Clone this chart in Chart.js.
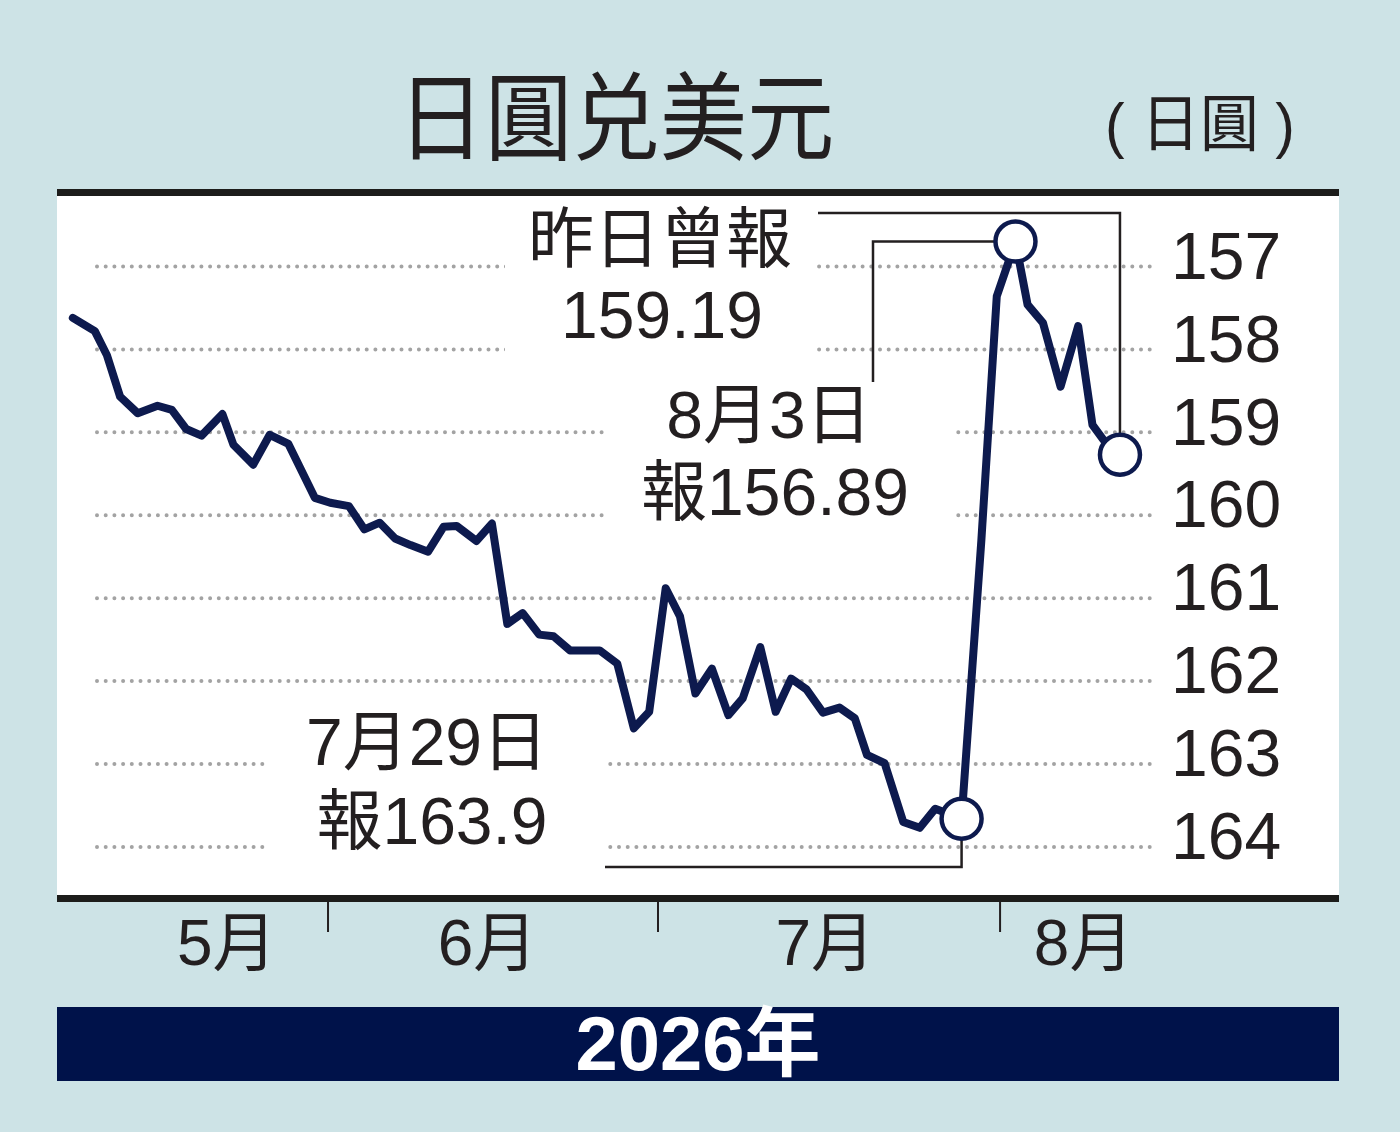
<!DOCTYPE html>
<html lang="zh-Hant">
<head>
<meta charset="utf-8">
<title>日圓兑美元</title>
<script src="https://cdn.jsdelivr.net/npm/chart.js@4.4.1/dist/chart.umd.min.js"></script>
<style>
  html, body { margin: 0; padding: 0; }
  body {
    width: 1400px; height: 1132px; position: relative; overflow: hidden;
    background: #cde3e6; color: #231f20;
    font-family: "Liberation Sans", "Noto Sans CJK TC", sans-serif;
  }
  #chart { position: absolute; left: 0; top: 0; }
  .title {
    position: absolute; left: 616px; top: 111px;
    transform: translate(-50%, -50%) scaleX(0.91);
    font-family: "Noto Sans CJK TC", sans-serif; font-size: 96px; font-weight: 400;
    line-height: 1; white-space: nowrap;
  }
  .unit {
    position: absolute; left: 1200px; top: 125px;
    transform: translate(-50%, -50%) scaleX(0.95);
    font-size: 62px; line-height: 1; white-space: nowrap;
  }
  .year {
    position: absolute; left: 57px; top: 1007px; width: 1282px; height: 74px;
    background: #00124a; color: #fff; text-align: center;
    font-size: 76px; font-weight: bold; line-height: 74px;
  }
</style>
</head>
<body>
<canvas id="chart" width="1400" height="1132"></canvas>
<div class="title">日圓兑美元</div>
<div class="unit">( 日圓 )</div>
<div class="year">2026年</div>
<script>
// 日期(由4月30日起計的日數, 5月1日=1) 及 日圓兑美元
const days = [8.3, 10.3, 11.4, 12.6, 14.2, 16.0, 17.3, 18.6, 20.0, 21.9,
  22.9, 24.7, 26.2, 27.9, 30.3, 31.7, 33.4, 34.8, 36.2, 37.6,
  39.0, 40.6, 42.0, 43.2, 45.0, 46.4, 47.8, 49.2, 50.7, 52.0,
  53.5, 54.9, 56.2, 57.8, 59.3, 60.7, 62.2, 63.5, 64.9, 66.4,
  67.9, 69.2, 70.8, 72.2, 73.6, 75.0, 76.5, 78.0, 79.4, 80.5,
  82.1, 83.8, 85.3, 86.7, 89.1, 90.9, 92.3, 94.0, 95.1, 96.5,
  98.1, 99.7, 101.0, 102.0, 103.5];
const rates = [157.62, 157.78, 158.07, 158.57, 158.77, 158.68, 158.73, 158.96, 159.04, 158.78,
  159.15, 159.39, 159.03, 159.14, 159.79, 159.85, 159.89, 160.17, 160.09, 160.28,
  160.36, 160.44, 160.14, 160.13, 160.31, 160.10, 161.31, 161.18, 161.44, 161.46,
  161.63, 161.63, 161.63, 161.79, 162.57, 162.37, 160.88, 161.22, 162.15, 161.85,
  162.41, 162.21, 161.59, 162.37, 161.97, 162.10, 162.38, 162.32, 162.45, 162.89,
  162.99, 163.70, 163.77, 163.54, 163.66, 160.30, 157.36, 156.70, 157.46, 157.68,
  158.45, 157.72, 158.91, 159.09, 159.27];

const yTicks = [157, 158, 159, 160, 161, 162, 163, 164];
const monthLabels = ['5月', '6月', '7月', '8月'];
const monthLabelDays = [22.3, 46.0, 76.7, 100.2];
const monthEdgeDays = [31.5, 61.5, 92.6];

// 標記: 7月29日低位, 8月3日高位, 昨日
const markIdx = [54, 57, 64];

const NAVY = '#0d1a4e';
const INK = '#231f20';

const frame = {
  id: 'frame',
  beforeDraw(chart) {
    const ctx = chart.ctx;
    ctx.save();
    ctx.fillStyle = '#fff';
    ctx.fillRect(57, 196, 1282, 699);
    ctx.fillStyle = '#1d1d1b';
    ctx.fillRect(57, 189, 1282, 7);
    ctx.fillRect(57, 895, 1282, 7);
    ctx.restore();
  },
  beforeDatasetsDraw(chart) {
    const ctx = chart.ctx;
    const x = chart.scales.x, y = chart.scales.y;
    ctx.save();

    // 點狀格線
    ctx.strokeStyle = '#a3a3a3';
    ctx.lineWidth = 4;
    ctx.lineCap = 'round';
    ctx.setLineDash([0, 8.7]);
    yTicks.forEach(v => {
      const py = y.getPixelForValue(v);
      ctx.beginPath();
      ctx.moveTo(97, py);
      ctx.lineTo(1150, py);
      ctx.stroke();
    });
    ctx.setLineDash([]);

    // 文字底
    ctx.fillStyle = '#fff';
    ctx.fillRect(505, 200, 310, 160);
    ctx.fillRect(607, 385, 348, 150);
    ctx.fillRect(266, 712, 340, 150);

    // 月份分隔
    ctx.fillStyle = INK;
    monthEdgeDays.forEach(d => {
      const px = x.getPixelForValue(d);
      ctx.fillRect(px - 1, 902, 2, 30);
    });

    // 引線
    const pt = i => [x.getPixelForValue(days[i]), y.getPixelForValue(rates[i])];
    const [lowX, lowY] = pt(markIdx[0]);
    const [hiX, hiY] = pt(markIdx[1]);
    const [lastX, lastY] = pt(markIdx[2]);
    ctx.strokeStyle = INK;
    ctx.lineWidth = 2.5;
    ctx.lineCap = 'butt';
    ctx.beginPath();
    ctx.moveTo(818, 213); ctx.lineTo(lastX, 213); ctx.lineTo(lastX, lastY);
    ctx.moveTo(873, 382); ctx.lineTo(873, hiY); ctx.lineTo(hiX, hiY);
    ctx.moveTo(605, 867); ctx.lineTo(lowX, 867); ctx.lineTo(lowX, lowY);
    ctx.stroke();

    // 註解文字
    ctx.fillStyle = INK;
    ctx.font = '66px "Liberation Sans", "Noto Sans CJK TC", sans-serif';
    ctx.textAlign = 'center';
    ctx.textBaseline = 'middle';
    ctx.fillText('昨日曾報', 660, 244);
    ctx.fillText('159.19', 662, 320);
    ctx.fillText('8月3日', 769, 420);
    ctx.fillText('報156.89', 775, 497);
    ctx.fillText('7月29日', 427, 747);
    ctx.fillText('報163.9', 432, 826);
    ctx.restore();
  }
};

new Chart(document.getElementById('chart'), {
  type: 'line',
  data: {
    datasets: [{
      data: days.map((d, i) => ({ x: d, y: rates[i] })),
      borderColor: NAVY,
      borderWidth: 8,
      tension: 0,
      borderJoinStyle: 'round',
      borderCapStyle: 'round',
      pointRadius: days.map((d, i) => markIdx.includes(i) ? 20 : 0),
      pointHoverRadius: days.map((d, i) => markIdx.includes(i) ? 20 : 0),
      pointBackgroundColor: '#fff',
      pointBorderColor: NAVY,
      pointBorderWidth: 4.5,
      clip: false
    }]
  },
  options: {
    responsive: false,
    animation: false,
    events: [],
    layout: { padding: { left: 57, right: 61, top: 196, bottom: 117 } },
    plugins: { legend: { display: false }, tooltip: { enabled: false } },
    scales: {
      x: {
        type: 'linear',
        min: 6.86,
        max: 107.14,
        grid: { display: false, drawTicks: false },
        border: { display: false },
        afterBuildTicks: s => { s.ticks = monthLabelDays.map(v => ({ value: v })); },
        afterFit: s => { s.height = 120; },
        ticks: {
          callback: (v, i) => monthLabels[i],
          autoSkip: false,
          maxRotation: 0,
          padding: 14,
          color: INK,
          font: { family: '"Liberation Sans", "Noto Sans CJK TC", sans-serif', size: 64 }
        }
      },
      y: {
        type: 'linear',
        position: 'right',
        reverse: true,
        min: 156.15,
        max: 164.58,
        grid: { display: false, drawTicks: false },
        border: { display: false },
        afterBuildTicks: s => { s.ticks = yTicks.map(v => ({ value: v })); },
        afterFit: s => { s.width = 179; },
        ticks: {
          padding: 11,
          labelOffset: -6,
          color: INK,
          font: { family: '"Liberation Sans", sans-serif', size: 66 }
        }
      }
    }
  },
  plugins: [frame]
});
</script>
</body>
</html>
